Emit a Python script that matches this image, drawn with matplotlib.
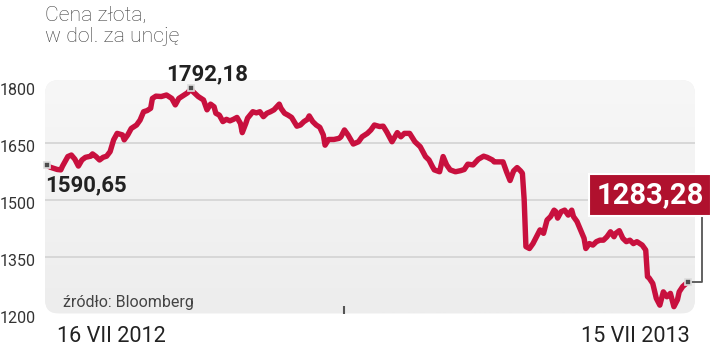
import numpy as np
import matplotlib
matplotlib.use("Agg")
from matplotlib import pyplot as plt
from matplotlib.patches import FancyBboxPatch
from matplotlib.transforms import Affine2D, ScaledTranslation, blended_transform_factory

plt.rcParams['font.family'] = ['Roboto', 'DejaVu Sans']

# gold price, USD per ounce, day 0 = 16 VII 2012, day 364 = 15 VII 2013
days = [0, 2, 6, 8, 9, 12, 14, 16, 18, 20, 22, 25, 26, 28, 30, 32, 34, 36, 38, 40,
        43, 44, 46, 48, 51, 53, 55, 57, 59, 60, 62, 65, 68, 71, 73, 75, 78, 80, 82, 83,
        86, 89, 91, 93, 95, 96, 98, 100, 102, 104, 106, 108, 110, 111, 113, 114, 117, 119, 121, 123,
        125, 127, 129, 131, 132, 133, 135, 137, 139, 142, 144, 146, 148, 149, 151, 153, 155, 157, 158, 160,
        163, 166, 167, 169, 171, 174, 177, 179, 182, 184, 186, 189, 191, 193, 196, 199, 201, 203, 206, 209,
        212, 215, 217, 219, 220, 223, 225, 227, 229, 232, 235, 237, 239, 242, 245, 248, 250, 253, 254, 257,
        259, 261, 263, 265, 267, 269, 270, 271, 272, 274, 276, 278, 280, 282, 284, 286, 288, 289, 290, 292,
        294, 296, 298, 299, 301, 303, 305, 306, 308, 310, 312, 314, 316, 318, 320, 322, 323, 325, 327, 329,
        331, 333, 335, 338, 340, 341, 342, 344, 346, 348, 350, 352, 354, 356, 358, 359, 361, 364]
price = [1590.65, 1585, 1579, 1578, 1588, 1613, 1617, 1606, 1588, 1604, 1611, 1614, 1620, 1613, 1604, 1611, 1614, 1626, 1657, 1674,
         1670, 1657, 1670, 1687, 1696, 1709, 1731, 1734, 1740, 1766, 1772, 1771, 1775, 1766, 1749, 1766, 1775, 1781, 1792.18, 1784,
         1771, 1762, 1736, 1751, 1744, 1727, 1722, 1705, 1711, 1707, 1711, 1716, 1700, 1676, 1700, 1714, 1731, 1728, 1731, 1718,
         1727, 1731, 1736, 1746, 1751, 1740, 1727, 1722, 1716, 1693, 1696, 1705, 1711, 1720, 1705, 1696, 1690, 1670, 1643, 1658,
         1658, 1661, 1665, 1683, 1670, 1646, 1652, 1665, 1674, 1683, 1696, 1692, 1693, 1678, 1652, 1676, 1665, 1674, 1674, 1652,
         1639, 1613, 1604, 1586, 1578, 1573, 1613, 1591, 1578, 1573, 1576, 1579, 1593, 1591, 1606, 1614, 1611, 1604, 1599, 1599,
         1599, 1573, 1550, 1575, 1584, 1575, 1569, 1500, 1376, 1371, 1384, 1402, 1420, 1411, 1446, 1455, 1472, 1468, 1451, 1468,
         1472, 1459, 1472, 1455, 1442, 1420, 1398, 1371, 1384, 1380, 1389, 1393, 1393, 1402, 1415, 1402, 1411, 1418, 1398, 1389,
         1393, 1384, 1389, 1380, 1367, 1297, 1293, 1279, 1240, 1222, 1257, 1244, 1253, 1218, 1236, 1257, 1271, 1283.28]

yticks = [1200, 1350, 1500, 1650, 1800]
gridvals = [1350, 1500, 1650]
newyear_day = 169
date_labels = ["16 VII 2012", "15 VII 2013"]

W, H = 720, 346
fig = plt.figure(figsize=(W / 100, H / 100), dpi=100)
px = Affine2D().scale(1 / W, 1 / H) + fig.transFigure

# plot area, pixel box: left 45, right 695, top 80, bottom 313.5
ax = fig.add_axes([45 / W, 1 - 313.5 / H, 650 / W, 233.5 / H])
ax.patch.set_visible(False)
for s in ax.spines.values():
    s.set_visible(False)

# rounded grey background with a soft gradient
r = 14
bg = FancyBboxPatch((45 + r, H - 313.5 + r), 650 - 2 * r, 233.5 - 2 * r,
                    boxstyle=f"round,pad={r}", transform=px,
                    facecolor='#efefef', edgecolor='none', zorder=-2)
fig.add_artist(bg)
grad = np.linspace(0, 1, 100).reshape(-1, 1)
img = ax.imshow(grad, extent=[0, 1, 0, 1], transform=ax.transAxes, aspect='auto',
                cmap=matplotlib.colors.LinearSegmentedColormap.from_list('g', ['#ededed', '#f7f7f7']),
                origin='lower', zorder=0)
img.set_clip_path(bg)

for g in gridvals:
    ax.axhline(g, color='#d3d3d3', lw=1.2, zorder=1)

ax.plot(days, price, color='#c8103e', lw=3.9, solid_joinstyle='round',
        solid_capstyle='round', zorder=3)

ax.set_xlim(-0.96, 367.97)
ax.set_ylim(1200, 1814.5)

ax.set_yticks(yticks)
ax.set_yticklabels([str(v) for v in yticks])
ax.tick_params(axis='y', length=0, pad=6.5, labelsize=11.5, labelcolor='#333333')
off = ScaledTranslation(0, -3 / 100, fig.dpi_scale_trans)
for lab in ax.get_yticklabels():
    lab.set_transform(lab.get_transform() + off)

ax.set_xticks([newyear_day])
ax.set_xticklabels([''])
ax.tick_params(axis='x', direction='in', length=6, width=1.5, color='#555555')

# point markers: start, peak, end
i_max = int(np.argmax(price))
marks = [0, i_max, len(days) - 1]
ax.plot([days[i] for i in marks], [price[i] for i in marks], 's', ms=5,
        mfc='#4d4d4d', mec='#dddddd', mew=1.2, zorder=5, clip_on=False)

def fmt(v):
    return f"{v:.2f}".replace('.', ',')

ax.annotate(fmt(price[i_max]), (days[i_max], price[i_max]), xytext=(-25, 8),
            textcoords='offset pixels', ha='left', va='baseline',
            fontsize=16, fontweight='bold', color='#222222', annotation_clip=False)
ax.annotate(fmt(price[0]), (days[0], price[0]), xytext=(-2, -26),
            textcoords='offset pixels', ha='left', va='baseline',
            fontsize=16, fontweight='bold', color='#222222', annotation_clip=False)

# last value in red box with connector
ax.annotate('', (days[-1], price[-1]), xytext=(14, 69), textcoords='offset pixels',
            arrowprops=dict(arrowstyle='-', color='#555555', lw=1.3, shrinkA=0, shrinkB=3,
                            connectionstyle='angle,angleA=90,angleB=0,rad=0'),
            annotation_clip=False)
ax.annotate(fmt(price[-1]), (days[-1], price[-1]), xytext=(-38, 87),
            textcoords='offset pixels', ha='center', va='center',
            fontsize=21, fontweight='bold', color='white', annotation_clip=False,
            bbox=dict(boxstyle='square,pad=0.24', fc='#b0112e', ec='white', lw=1.5),
            zorder=6)

# date labels under the axis
bt = blended_transform_factory(ax.transData, ax.transAxes)
ax.annotate(date_labels[0], (days[0], 0), xycoords=bt, xytext=(10, -28.5),
            textcoords='offset pixels', ha='left', va='baseline',
            fontsize=15.6, color='#222222', annotation_clip=False)
ax.annotate(date_labels[1], (days[-1], 0), xycoords=bt, xytext=(2, -28.5),
            textcoords='offset pixels', ha='right', va='baseline',
            fontsize=15.6, color='#222222', annotation_clip=False)

fig.text(45 / W, 1 - 6 / H, "Cena złota,\nw dol. za uncję", ha='left', va='top',
         fontsize=15.3, color='#3c3c3c', fontweight='light', linespacing=1.12)
fig.text(63 / W, 1 - 307 / H, "źródło: Bloomberg", ha='left', va='baseline',
         fontsize=11.5, color='#444444')

fig.savefig('out.png', dpi=100)
